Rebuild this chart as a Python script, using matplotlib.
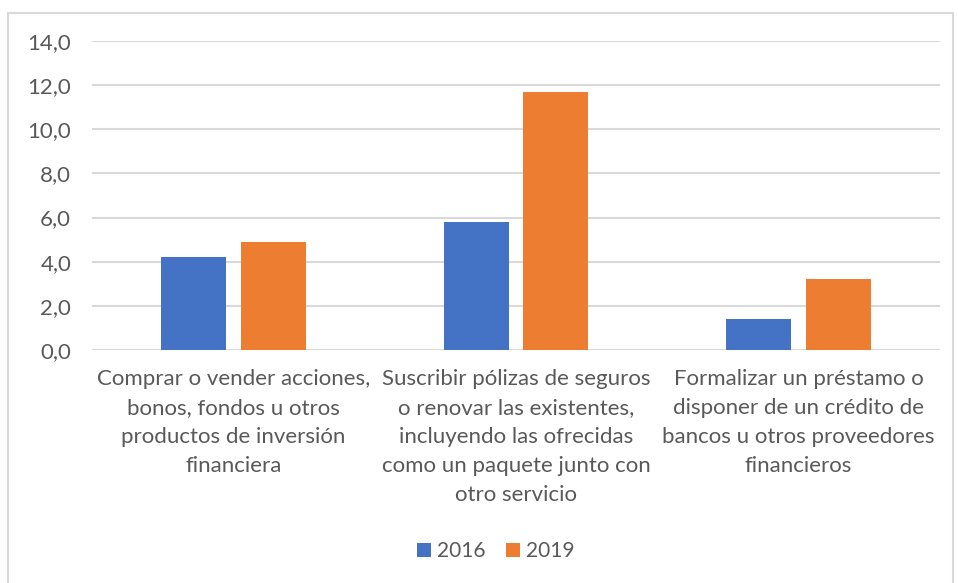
import numpy as np
import matplotlib.pyplot as plt
from matplotlib.patches import Rectangle

# datos
categorias = ['Comprar o vender acciones,\nbonos, fondos u otros\nproductos de inversión\nfinanciera',
              'Suscribir pólizas de seguros\no renovar las existentes,\nincluyendo las ofrecidas\ncomo un paquete junto con\notro servicio',
              'Formalizar un préstamo o\ndisponer de un crédito de\nbancos u otros proveedores\nfinancieros']
anios = ['2016', '2019']
valores_2016 = [4.2, 5.8, 1.4]
valores_2019 = [4.9, 11.7, 3.2]
yticks = [0, 2, 4, 6, 8, 10, 12, 14]

azul = '#4472C4'
naranja = '#ED7D31'
gris = '#595959'

plt.rcParams['font.family'] = ['Lato', 'DejaVu Sans']

fig = plt.figure(figsize=(9.58, 5.83), dpi=100)
ax = fig.add_axes([92/958, 1 - 350/583, (940 - 92)/958, (350 - 41)/583])

# borde del grafico
fig.patches.append(Rectangle((8/958, -0.05), (953 - 8)/958, 1 - 13/583 + 0.05,
                             transform=fig.transFigure, fill=False,
                             edgecolor='#D9D9D9', linewidth=1.5))

x = np.arange(len(categorias))
ancho = 0.229
desp = 0.141
ax.bar(x - desp, valores_2016, ancho, color=azul, label=anios[0], zorder=3)
ax.bar(x + desp, valores_2019, ancho, color=naranja, label=anios[1], zorder=3)

ax.set_xlim(-0.5, 2.5)
ax.set_ylim(0, 14)
ax.set_yticks(yticks)
ax.set_yticklabels([f'{v:.1f}'.replace('.', ',') for v in yticks], fontsize=16, color=gris)
ax.set_xticks(x)
ax.set_xticklabels(categorias, fontsize=16, color=gris, linespacing=1.56, va='top')
ax.tick_params(axis='both', length=0)
ax.tick_params(axis='y', pad=15)
ax.tick_params(axis='x', pad=14)

ax.grid(axis='y', color='#D9D9D9', linewidth=1.5, zorder=0)
for s in ax.spines.values():
    s.set_visible(False)

ax.legend(loc='center', bbox_to_anchor=(496/958, 1 - 551/583), bbox_transform=fig.transFigure,
          ncol=2, frameon=False, fontsize=15, labelcolor=gris,
          handlelength=0.65, handleheight=0.65, handletextpad=0.3, columnspacing=1.0)

fig.savefig('out.png', dpi=100)
